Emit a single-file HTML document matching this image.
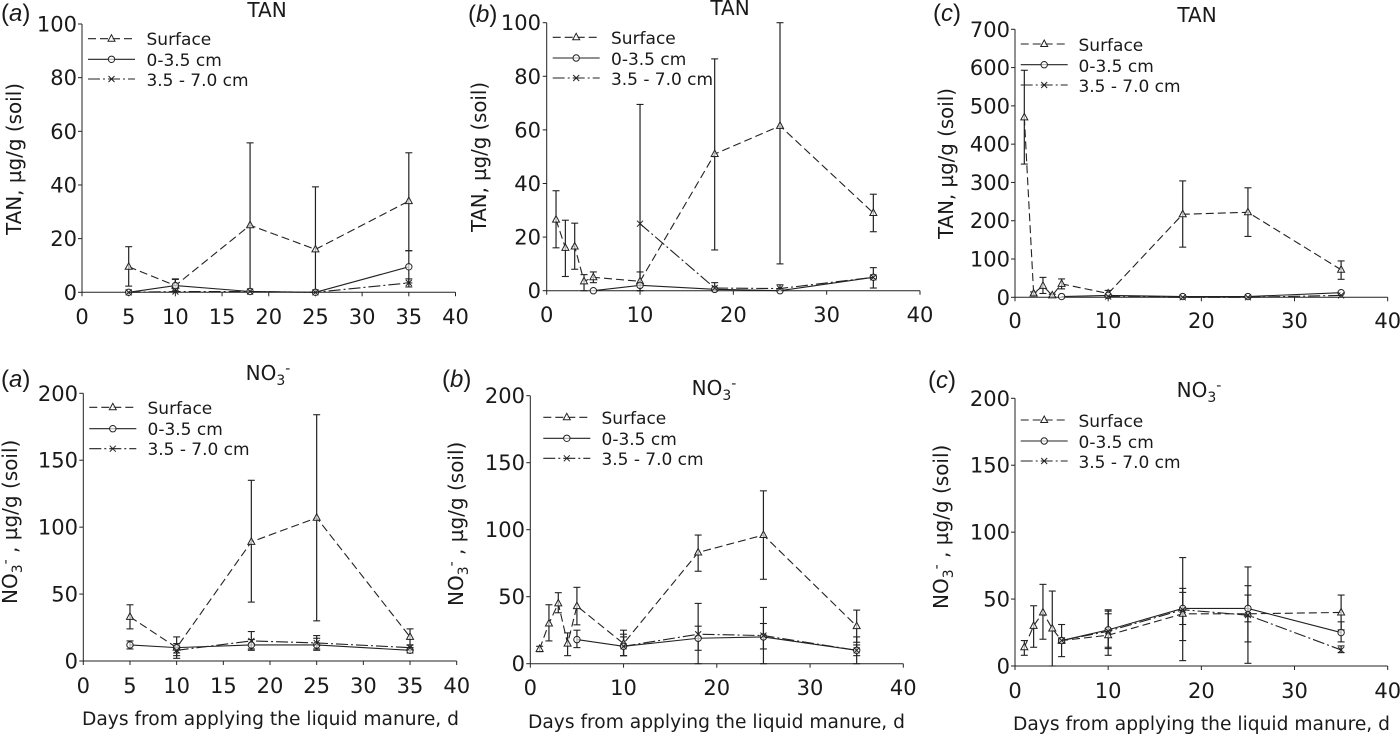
<!DOCTYPE html>
<html lang="en">
<head>
<meta charset="utf-8">
<title>TAN and nitrate in soil after applying liquid manure</title>
<style>
html,body{margin:0;padding:0;background:#fff;width:1400px;height:736px;overflow:hidden}
svg{display:block}
text{font-family:"DejaVu Sans","Liberation Sans",sans-serif;fill:#1a1a1a}
.tick{font-size:21px}
.legend{font-size:17px}
.title{font-size:20px;text-anchor:middle}
.ytitle{font-size:20px}
.xtitle{font-size:18.5px}
.letter{font-family:"Liberation Sans",sans-serif;font-size:24px}
.letter tspan.i{font-style:italic}
</style>
</head>
<body>
<svg id="figure" width="1400" height="736" viewBox="0 0 1400 736" xmlns="http://www.w3.org/2000/svg">
<rect width="1400" height="736" fill="#fff"/>

<g id="p1">
<text class="letter" x="1" y="21">(<tspan class="i">a</tspan>)</text>
<text class="title" x="267" y="17">TAN</text>
<text class="ytitle" transform="translate(21,235) rotate(-90)" textLength="152" lengthAdjust="spacingAndGlyphs">TAN, µg/g (soil)</text>
<text class="legend" x="146.5" y="45">Surface</text>
<text class="legend" x="146.5" y="66">0-3.5 cm</text>
<text class="legend" x="146.5" y="86" textLength="102">3.5 - 7.0 cm</text>
</g>

<g id="p2">
<text class="letter" x="468" y="22">(<tspan class="i">b</tspan>)</text>
<text class="title" x="730" y="15">TAN</text>
<text class="ytitle" transform="translate(486,232) rotate(-90)" textLength="150" lengthAdjust="spacingAndGlyphs">TAN, µg/g (soil)</text>
<text class="legend" x="611" y="44">Surface</text>
<text class="legend" x="611" y="65">0-3.5 cm</text>
<text class="legend" x="611" y="85" textLength="102">3.5 - 7.0 cm</text>
</g>

<g id="p3">
<text class="letter" x="933" y="21">(<tspan class="i">c</tspan>)</text>
<text class="title" x="1197" y="22">TAN</text>
<text class="ytitle" transform="translate(953,239) rotate(-90)" textLength="151" lengthAdjust="spacingAndGlyphs">TAN, µg/g (soil)</text>
<text class="legend" x="1078.5" y="51">Surface</text>
<text class="legend" x="1078.5" y="72">0-3.5 cm</text>
<text class="legend" x="1078.5" y="92" textLength="102">3.5 - 7.0 cm</text>
</g>

<g id="p4">
<text class="letter" x="1" y="387">(<tspan class="i">a</tspan>)</text>
<text class="title" x="268" y="380">NO<tspan font-size="14" dy="5">3</tspan><tspan font-size="14" dy="-12">-</tspan></text>
<text class="ytitle" transform="translate(17,604) rotate(-90)">NO<tspan font-size="14" dy="5">3</tspan><tspan font-size="14" dy="-12">-</tspan><tspan dy="7"> , µg/g (soil)</tspan></text>
<text class="legend" x="147.5" y="414">Surface</text>
<text class="legend" x="147.5" y="435">0-3.5 cm</text>
<text class="legend" x="147.5" y="455" textLength="102">3.5 - 7.0 cm</text>
<text class="xtitle" x="82" y="725" textLength="377" lengthAdjust="spacingAndGlyphs">Days from applying the liquid manure, d</text>
</g>

<g id="p5">
<text class="letter" x="442" y="387">(<tspan class="i">b</tspan>)</text>
<text class="title" x="714" y="395">NO<tspan font-size="14" dy="5">3</tspan><tspan font-size="14" dy="-12">-</tspan></text>
<text class="ytitle" transform="translate(463,606) rotate(-90)">NO<tspan font-size="14" dy="5">3</tspan><tspan font-size="14" dy="-12">-</tspan><tspan dy="7"> , µg/g (soil)</tspan></text>
<text class="legend" x="601.5" y="424">Surface</text>
<text class="legend" x="601.5" y="445">0-3.5 cm</text>
<text class="legend" x="601.5" y="465" textLength="102">3.5 - 7.0 cm</text>
<text class="xtitle" x="528" y="728" textLength="377" lengthAdjust="spacingAndGlyphs">Days from applying the liquid manure, d</text>
</g>

<g id="p6">
<text class="letter" x="928" y="388">(<tspan class="i">c</tspan>)</text>
<text class="title" x="1199" y="397">NO<tspan font-size="14" dy="5">3</tspan><tspan font-size="14" dy="-12">-</tspan></text>
<text class="ytitle" transform="translate(948,609) rotate(-90)">NO<tspan font-size="14" dy="5">3</tspan><tspan font-size="14" dy="-12">-</tspan><tspan dy="7"> , µg/g (soil)</tspan></text>
<text class="legend" x="1078.5" y="427">Surface</text>
<text class="legend" x="1078.5" y="448">0-3.5 cm</text>
<text class="legend" x="1078.5" y="468" textLength="102">3.5 - 7.0 cm</text>
<text class="xtitle" x="1013" y="730" textLength="377" lengthAdjust="spacingAndGlyphs">Days from applying the liquid manure, d</text>
</g>
</svg>

<script>
// ---- tick labels ----
const xTicksBy5 = [0, 5, 10, 15, 20, 25, 30, 35, 40];
const xTicksBy10 = [0, 10, 20, 30, 40];
const yTicks100 = [0, 20, 40, 60, 80, 100];
const yTicks700 = [0, 100, 200, 300, 400, 500, 600, 700];
const yTicks200 = [0, 50, 100, 150, 200];

// ---- sampling days ----
const daysShort = [5, 10, 18, 25, 35];
const daysLong = [1, 2, 3, 4, 5, 10, 18, 25, 35];

// ---- TAN (a) ----
const tanASurface = [9.5, 2.5, 25, 16, 34];
const tanASurfaceHi = [17, 5, 55.7, 39.3, 52];
const tanASurfaceLo = [2.3, 0.5, 0, 0, 15.5];
const tanAMid = [0, 2.5, 0.3, 0, 9.5];
const tanAMidHi = [null, 4.8, null, null, 15.5];
const tanAMidLo = [null, 0.5, null, null, 3.5];
const tanADeep = [0, 0.3, 0.3, 0, 3.5];
const tanADeepHi = [null, null, null, null, 5];
const tanADeepLo = [null, null, null, null, 2];

// ---- TAN (b) ----
const tanBSurface = [26.5, 16, 16.5, 3.5, 5, 3.5, 51, 61.5, 29];
const tanBSurfaceHi = [37.3, 26.3, 25.2, 6, 7, 7, 86.5, 100, 36];
const tanBSurfaceLo = [16, 5.3, 8, 0, 3, 0, 15.2, 10, 22];
const tanBMid = [null, null, null, null, 0, 2, 0.5, 0, 5];
const tanBMidHi = [null, null, null, null, null, null, null, null, 8.6];
const tanBMidLo = [null, null, null, null, null, null, null, null, 1];
const tanBDeep = [null, null, null, null, null, 25, 1, 0.8, 5];
const tanBDeepHi = [null, null, null, null, null, 69.5, 3, 2.2, 5.5];
const tanBDeepLo = [null, null, null, null, null, 0, 0, 0, 4.5];

// ---- TAN (c) ----
const tanCSurface = [470, 10, 30, 5, 35, 10, 217, 222, 72];
const tanCSurfaceHi = [593, 14, 52, 8, 48, 18, 304, 286, 95];
const tanCSurfaceLo = [348, 6, 10, 2, 22, 2, 131, 159, 47];
const tanCMid = [null, null, null, null, 2, 5, 2, 2, 12];
const tanCMidHi = [null, null, null, null, null, null, null, null, null];
const tanCMidLo = [null, null, null, null, null, null, null, null, null];
const tanCDeep = [null, null, null, null, null, 2, 0, 0, 5];
const tanCDeepHi = [null, null, null, null, null, null, null, null, null];
const tanCDeepLo = [null, null, null, null, null, null, null, null, null];

// ---- NO3 (a) ----
const no3ASurface = [33, 10, 89, 107, 18];
const no3ASurfaceHi = [42, 18, 135, 184, 24];
const no3ASurfaceLo = [24, 2, 44, 30, 12];
const no3AMid = [12, 10, 12, 12, 8];
const no3AMidHi = [15, 13, 16, 17, 10];
const no3AMidLo = [9, 6, 8, 8, 6];
const no3ADeep = [null, 8, 15, 13.5, 10];
const no3ADeepHi = [null, 11, 22, 19, 12];
const no3ADeepLo = [null, 4, 9, 9, 8];

// ---- NO3 (b) ----
const no3BSurface = [11, 30, 45, 15, 43, 15, 83, 96, 28];
const no3BSurfaceHi = [13, 44, 53, 23, 57, 25, 96, 129, 40];
const no3BSurfaceLo = [9, 17, 38, 6, 29, 6, 69, 63, 16];
const no3BMid = [null, null, null, null, 18, 13, 19, 20, 10];
const no3BMidHi = [null, null, null, null, 25, 22, 28, 30, 14];
const no3BMidLo = [null, null, null, null, 12, 6, 10, 11, 6];
const no3BDeep = [null, null, null, null, null, 13, 22, 21, 10];
const no3BDeepHi = [null, null, null, null, null, 20, 45, 42, 20];
const no3BDeepLo = [null, null, null, null, null, 6, 0, 0, 0];

// ---- NO3 (c) ----
const no3CSurface = [14, 30, 40, 28, 19, 23, 39, 39, 40];
const no3CSurfaceHi = [19, 45, 61, 56, 31, 39, 58, 60, 53];
const no3CSurfaceLo = [8, 14, 20, 0, 7, 8, 19, 18, 27];
const no3CMid = [null, null, null, null, 19, 27, 43, 43, 25];
const no3CMidHi = [null, null, null, null, 21, 42, 81, 74, 33];
const no3CMidLo = [null, null, null, null, 17, 14, 4, 2, 18];
const no3CDeep = [null, null, null, null, 19, 26, 42, 38, 12];
const no3CDeepHi = [null, null, null, null, 20, 41, 55, 53, 15];
const no3CDeepLo = [null, null, null, null, 18, 13, 31, 33, 10];

// ---- layout of each panel (axes frame, legend) ----
const SVGNS = 'http://www.w3.org/2000/svg';
const panels = [
  {id:'p1', x0:82, x1:455.5, y0:292.3, y1:24, yMax:100, xt:xTicksBy5, yt:yTicks100, xlab:324, ylab:77, lx0:88, lys:[38.7,59.3,79],
   days:daysShort, s:[[tanASurface,tanASurfaceHi,tanASurfaceLo],[tanAMid,tanAMidHi,tanAMidLo],[tanADeep,tanADeepHi,tanADeepLo]]},
  {id:'p2', x0:546.7, x1:920, y0:290.7, y1:22.7, yMax:100, xt:xTicksBy10, yt:yTicks100, xlab:322, ylab:541, lx0:552.7, lys:[37.3,58,78],
   days:daysLong, s:[[tanBSurface,tanBSurfaceHi,tanBSurfaceLo],[tanBMid,tanBMidHi,tanBMidLo],[tanBDeep,tanBDeepHi,tanBDeepLo]]},
  {id:'p3', x0:1015, x1:1387.7, y0:297.3, y1:29.3, yMax:700, xt:xTicksBy10, yt:yTicks700, xlab:328, ylab:1010, lx0:1020.7, lys:[44,64.7,85],
   days:daysLong, s:[[tanCSurface,tanCSurfaceHi,tanCSurfaceLo],[tanCMid,tanCMidHi,tanCMidLo],[tanCDeep,tanCDeepHi,tanCDeepLo]]},
  {id:'p4', x0:83.3, x1:456.7, y0:661, y1:393.3, yMax:200, xt:xTicksBy5, yt:yTicks200, xlab:693, ylab:78, lx0:89.3, lys:[407.3,428.7,448.7],
   days:daysShort, s:[[no3ASurface,no3ASurfaceHi,no3ASurfaceLo],[no3AMid,no3AMidHi,no3AMidLo],[no3ADeep,no3ADeepHi,no3ADeepLo]]},
  {id:'p5', x0:530.3, x1:903.3, y0:663.7, y1:395.7, yMax:200, xt:xTicksBy10, yt:yTicks200, xlab:695, ylab:525, lx0:543.3, lys:[417.3,438.3,458.3],
   days:daysLong, s:[[no3BSurface,no3BSurfaceHi,no3BSurfaceLo],[no3BMid,no3BMidHi,no3BMidLo],[no3BDeep,no3BDeepHi,no3BDeepLo]]},
  {id:'p6', x0:1015, x1:1387.7, y0:666, y1:398.3, yMax:200, xt:xTicksBy10, yt:yTicks200, xlab:698, ylab:1010, lx0:1020.7, lys:[420,441,461],
   days:daysLong, s:[[no3CSurface,no3CSurfaceHi,no3CSurfaceLo],[no3CMid,no3CMidHi,no3CMidLo],[no3CDeep,no3CDeepHi,no3CDeepLo]]}
];
const seriesNames = ['surface', '0-3.5-cm', '3.5-7.0-cm'];
const seriesDash = ['8 4', '', '12 3 2 3'];
const INK = '#222';

function make(tag, attrs) {
  const el = document.createElementNS(SVGNS, tag);
  for (const k in attrs) el.setAttribute(k, attrs[k]);
  return el;
}

function segment(parent, x1, y1, x2, y2, width, name) {
  const el = make('line', {x1:x1, y1:y1, x2:x2, y2:y2, stroke:INK, 'stroke-width':width});
  
  
  parent.appendChild(el);
}

function marker(parent, kind, cx, cy, name) {
  let el;
  if (kind === 0) {
    el = make('path', {d:'M'+cx+' '+(cy-4)+'L'+(cx+3.5)+' '+(cy+2.5)+'L'+(cx-3.5)+' '+(cy+2.5)+'Z', fill:'#fff', 'fill-opacity':0.65, stroke:INK, 'stroke-width':1});
  } else if (kind === 1) {
    el = make('circle', {cx:cx, cy:cy, r:3.2, fill:'#fff', 'fill-opacity':0.65, stroke:INK, 'stroke-width':1});
  } else {
    el = make('path', {d:'M'+(cx-3)+' '+(cy-3)+'L'+(cx+3)+' '+(cy+3)+'M'+(cx-3)+' '+(cy+3)+'L'+(cx+3)+' '+(cy-3), fill:'none', stroke:INK, 'stroke-width':1});
  }
  
  
  parent.appendChild(el);
}

function drawPanel(p) {
  const g = document.getElementById(p.id);
  const xMax = p.xt[p.xt.length - 1];
  const X = function (v) { return p.x0 + (p.x1 - p.x0) * v / xMax; };
  const Y = function (v) { return p.y0 + (p.y1 - p.y0) * v / p.yMax; };

  // axes
  segment(g, p.x0, p.y0, p.x1, p.y0, 1, 'x-axis');
  segment(g, p.x0, p.y0, p.x0, p.y1, 1, 'y-axis');
  p.xt.forEach(function (t) {
    segment(g, X(t), p.y0, X(t), p.y0 + 4, 1, 'x-tick');
    const lab = make('text', {class:'tick', x:X(t), y:p.xlab, 'text-anchor':'middle'});
    
    
    lab.textContent = t;
    g.appendChild(lab);
  });
  p.yt.forEach(function (t) {
    segment(g, p.x0 - 4, Y(t), p.x0, Y(t), 1, 'y-tick');
    const lab = make('text', {class:'tick', x:p.ylab, y:Y(t) + 7.5, 'text-anchor':'end'});
    
    
    lab.textContent = t;
    g.appendChild(lab);
  });

  // error bars
  p.s.forEach(function (ser, si) {
    p.days.forEach(function (d, i) {
      const hi = ser[1][i], lo = ser[2][i];
      if (hi === null || lo === null) return;
      const x = X(d);
      segment(g, x, Y(hi), x, Y(lo), 1.2, 'error-bar-' + seriesNames[si]);
      segment(g, x - 3.5, Y(hi), x + 3.5, Y(hi), 1.1, 'error-cap-' + seriesNames[si]);
      segment(g, x - 3.5, Y(lo), x + 3.5, Y(lo), 1.1, 'error-cap-' + seriesNames[si]);
    });
  });

  // series lines and markers
  p.s.forEach(function (ser, si) {
    let pts = '';
    p.days.forEach(function (d, i) {
      if (ser[0][i] !== null) pts += X(d).toFixed(2) + ',' + Y(ser[0][i]).toFixed(2) + ' ';
    });
    const line = make('polyline', {points:pts.trim(), fill:'none', stroke:INK, 'stroke-width':1.1, 'stroke-dasharray':seriesDash[si]});
    
    
    g.appendChild(line);
    p.days.forEach(function (d, i) {
      if (ser[0][i] !== null) marker(g, si, X(d), Y(ser[0][i]), 'point-' + seriesNames[si]);
    });
  });

  // legend keys
  p.lys.forEach(function (ly, si) {
    const key = make('line', {x1:p.lx0, y1:ly, x2:p.lx0 + 47, y2:ly, stroke:INK, 'stroke-width':1.1, 'stroke-dasharray':seriesDash[si]});
    
    
    g.appendChild(key);
    marker(g, si, p.lx0 + 23.5, ly, 'legend-marker-' + seriesNames[si]);
  });
}
panels.forEach(drawPanel);
</script>
</body>
</html>
